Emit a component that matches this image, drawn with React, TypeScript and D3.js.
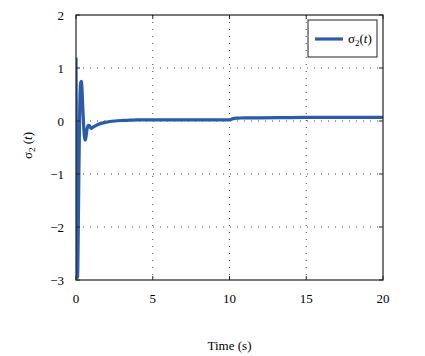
import React from "react";
import * as d3 from "d3";

const timeValues = [0, 0.03, 0.07, 0.1, 0.13, 0.18, 0.24, 0.3, 0.35, 0.4, 0.45, 0.5, 0.55, 0.6, 0.65, 0.72, 0.8, 0.88, 0.95, 1.02, 1.1, 1.2, 1.4, 1.7, 2.0, 2.5, 3.0, 3.5, 4.0, 5, 6, 8, 10, 10.1, 10.3, 10.6, 11, 12, 14, 16, 18, 20];
const sigma2Values = [1.2, -0.8, -2.9, -2.95, -2.5, -1.2, 0.2, 0.72, 0.75, 0.55, 0.2, -0.1, -0.3, -0.36, -0.3, -0.15, -0.08, -0.09, -0.13, -0.14, -0.12, -0.1, -0.07, -0.04, -0.02, 0.0, 0.01, 0.015, 0.02, 0.02, 0.02, 0.02, 0.02, 0.03, 0.05, 0.055, 0.06, 0.06, 0.065, 0.07, 0.07, 0.07];
const xTicks = [0, 5, 10, 15, 20];
const yTicks = [-3, -2, -1, 0, 1, 2];

export default function App() {
  const W = 425, H = 356;
  const left = 76, right = 383, top = 15, bottom = 280;
  const x = d3.scaleLinear().domain([0, 20]).range([left, right]);
  const y = d3.scaleLinear().domain([-3, 2]).range([bottom, top]);
  const line = d3.line<number>().x((_, i) => x(timeValues[i])).y((d) => y(d)).curve(d3.curveMonotoneX);
  const font = "Liberation Serif";
  const color = "#2a5caa";
  return (
    <svg width={W} height={H} style={{ position: "absolute", left: 0, top: 0, fontFamily: font }}>
      <rect width={W} height={H} fill="white" />
      {xTicks.slice(1, -1).map((t) => (
        <line key={"gx" + t} x1={x(t)} x2={x(t)} y1={top} y2={bottom} stroke="#444" strokeWidth={1} strokeDasharray="1,6" />
      ))}
      {yTicks.slice(1, -1).map((t) => (
        <line key={"gy" + t} x1={left} x2={right} y1={y(t)} y2={y(t)} stroke="#444" strokeWidth={1} strokeDasharray="1,6" />
      ))}
      <clipPath id="clip">
        <rect x={left} y={top - 2} width={right - left} height={bottom - top + 4} />
      </clipPath>
      <path d={line(sigma2Values) || ""} fill="none" stroke={color} strokeWidth={3.2} strokeLinejoin="round" clipPath="url(#clip)" />
      <rect x={left} y={top} width={right - left} height={bottom - top} fill="none" stroke="#222" strokeWidth={1.2} />
      {xTicks.map((t) => (
        <g key={"xt" + t}>
          <line x1={x(t)} x2={x(t)} y1={bottom} y2={bottom - 4} stroke="#222" />
          <line x1={x(t)} x2={x(t)} y1={top} y2={top + 4} stroke="#222" />
          <text x={x(t)} y={bottom + 23} fontSize={13} textAnchor="middle">{t}</text>
        </g>
      ))}
      {yTicks.map((t) => (
        <g key={"yt" + t}>
          <line x1={left} x2={left + 4} y1={y(t)} y2={y(t)} stroke="#222" />
          <line x1={right} x2={right - 4} y1={y(t)} y2={y(t)} stroke="#222" />
          <text x={left - 12} y={y(t) + 4.5} fontSize={13} textAnchor="end">{t < 0 ? "\u2212" + Math.abs(t) : t}</text>
        </g>
      ))}
      <text x={(left + right) / 2} y={350} fontSize={13} textAnchor="middle">Time (s)</text>
      <text transform={`translate(32,${(top + bottom) / 2 - 2}) rotate(-90)`} fontSize={13} textAnchor="middle">
        σ<tspan fontSize={9} dy={3}>2</tspan><tspan dy={-3}> (</tspan><tspan fontStyle="italic">t</tspan>)
      </text>
      <rect x={308} y={20} width={69} height={37} fill="white" stroke="#222" strokeWidth={1} />
      <line x1={315} x2={343} y1={39} y2={39} stroke={color} strokeWidth={3.2} />
      <text x={348} y={43} fontSize={13}>
        σ<tspan fontSize={9} dy={3}>2</tspan><tspan dy={-3}>(</tspan><tspan fontStyle="italic">t</tspan>)
      </text>
    </svg>
  );
}
